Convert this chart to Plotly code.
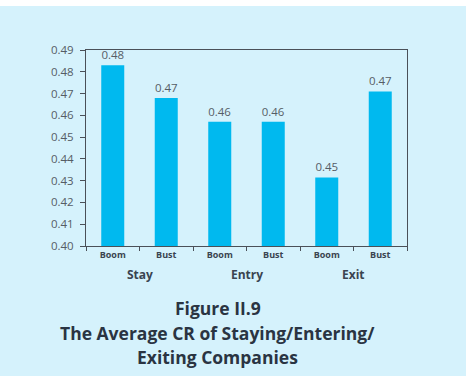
import plotly.graph_objects as go

categories = ["stay_boom", "stay_bust", "entry_boom", "entry_bust", "exit_boom", "exit_bust"]
tick_labels = ["Boom", "Bust", "Boom", "Bust", "Boom", "Bust"]
values = [0.483, 0.468, 0.457, 0.457, 0.4315, 0.471]
value_labels = ["0.48", "0.47", "0.46", "0.46", "0.45", "0.47"]
groups = ["Stay", "Entry", "Exit"]
group_pos = [0.5, 2.5, 4.5]
y_ticks = [0.40, 0.41, 0.42, 0.43, 0.44, 0.45, 0.46, 0.47, 0.48, 0.49]

BG = "#d5f2fc"
BAR = "#00b9ef"
AX = "#4a5058"
TXT = "#555d66"
FONT = "Open Sans"

fig = go.Figure()
fig.add_trace(go.Bar(
    x=categories, y=values, text=value_labels, textposition="outside",
    textfont=dict(family=FONT, size=11.5, color=TXT),
    marker=dict(color=BAR, line=dict(width=0)),
    width=0.43, cliponaxis=False,
))

for g, p in zip(groups, group_pos):
    fig.add_annotation(x=p, y=0, xref="x", yref="paper", yshift=-28, text="<b>%s</b>" % g,
                       showarrow=False, font=dict(family=FONT, size=12, color="#3a4450"),
                       yanchor="middle")

title_lines = ["Figure II.9", "The Average CR of Staying/Entering/", "Exiting Companies"]
title_y = [308, 333, 357]
for t, yy in zip(title_lines, title_y):
    fig.add_annotation(x=(217.5 - 86) / 321, xref="paper", y=(246 - yy) / 196, yref="paper",
                       text="<b>%s</b>" % t, showarrow=False, yanchor="middle",
                       font=dict(family=FONT, size=17.5, color="#2a3442"))

# white strip at top of page
fig.add_shape(type="rect", xref="paper", yref="paper",
              x0=-86 / 321, x1=1 + 60 / 321, y0=1 + 44 / 196, y1=1 + 52 / 196,
              fillcolor="white", line=dict(width=0), layer="below")

fig.update_layout(
    width=466, height=376,
    margin=dict(l=86, r=59, t=50, b=130),
    paper_bgcolor=BG, plot_bgcolor=BG,
    showlegend=False, bargap=0.57,
    xaxis=dict(
        type="category", tickvals=categories, ticktext=["<b>%s</b>" % t for t in tick_labels],
        tickson="boundaries", ticks="outside", ticklen=4, tickcolor=AX,
        showline=True, linecolor=AX, linewidth=1, mirror=True,
        tickfont=dict(family=FONT, size=9, color="#3a4450"),
        showgrid=False, range=[-0.5, 5.5],
    ),
    yaxis=dict(
        range=[0.40, 0.49], tickvals=y_ticks, ticktext=["%.2f" % v for v in y_ticks],
        ticks="outside", ticklen=5, tickcolor=AX, ticklabelstandoff=4,
        showline=True, linecolor=AX, linewidth=1, mirror=True,
        tickfont=dict(family=FONT, size=11.5, color=TXT),
        showgrid=False, zeroline=False,
    ),
)

fig.write_html("out.html")
